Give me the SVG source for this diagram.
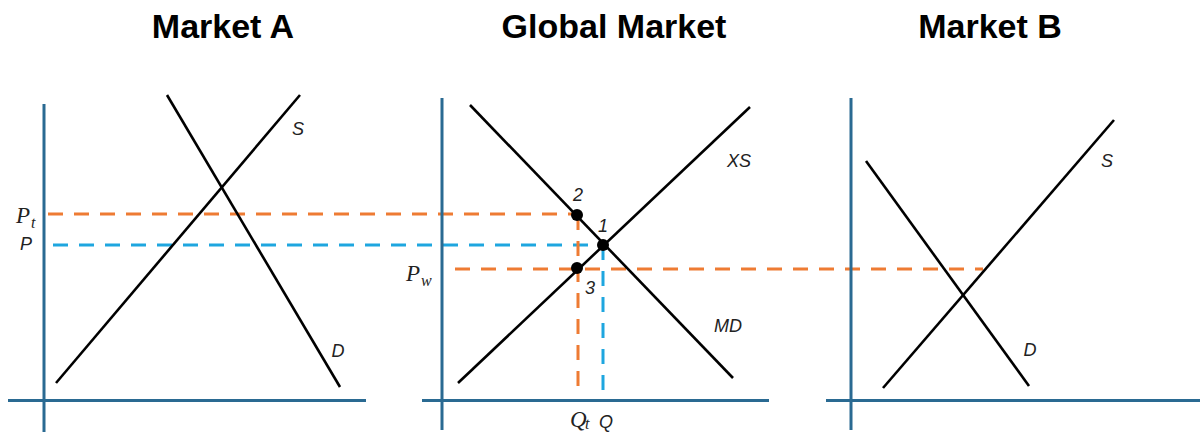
<svg xmlns="http://www.w3.org/2000/svg" width="1200" height="432" viewBox="0 0 1200 432">
<style>
.title{font-family:"Liberation Sans",Arial,sans-serif;font-weight:bold;font-size:34px;fill:#000;text-anchor:middle}
.axis{stroke:#2a6a92;stroke-width:3;fill:none}
.curve{stroke:#000;stroke-width:2.6;fill:none;stroke-linecap:butt}
.dor{stroke:#ee7b33;stroke-width:3;stroke-dasharray:15 11;fill:none}
.dbl{stroke:#1ea6df;stroke-width:3;stroke-dasharray:15 11;fill:none}
.lab{font-family:"Liberation Sans",Arial,sans-serif;font-style:italic;font-size:18px;fill:#222;text-anchor:middle}
.mlab{font-family:"Liberation Serif","Times New Roman",serif;font-style:italic;font-size:23px;fill:#222}
.sub{font-family:"Liberation Serif","Times New Roman",serif;font-style:italic;font-size:16px;fill:#222}
.dot{fill:#000}
</style>
<g id="titles">
<text class="title" x="223" y="38">Market A</text>
<text class="title" x="614" y="38">Global Market</text>
<text class="title" x="990" y="38">Market B</text>
</g>
<g id="connectors">
<line class="dor" x1="48" y1="214" x2="577" y2="214"/>
<line class="dbl" x1="53" y1="245" x2="603" y2="245"/>
<line class="dor" x1="455" y1="269" x2="983" y2="269"/>
<line class="dor" x1="578" y1="215" x2="578" y2="392"/>
<line class="dbl" x1="603" y1="245" x2="603" y2="393"/>
</g>
<g id="market-a">
<line class="axis" x1="44" y1="104" x2="44" y2="432"/>
<line class="axis" x1="8" y1="400.5" x2="366" y2="400.5"/>
<line class="curve" x1="56" y1="383" x2="300" y2="95"/>
<line class="curve" x1="167" y1="95" x2="340" y2="387"/>
<text class="lab" x="298" y="135">S</text>
<text class="lab" x="338" y="357">D</text>
<text class="mlab" x="16" y="223">P</text><text class="sub" x="31" y="228">t</text>
<text class="lab" x="26" y="250">P</text>
</g>
<g id="global-market">
<line class="axis" x1="442" y1="98" x2="442" y2="430"/>
<line class="axis" x1="422" y1="400.5" x2="769" y2="400.5"/>
<line class="curve" x1="458" y1="383" x2="750" y2="107"/>
<line class="curve" x1="470" y1="105" x2="733" y2="378"/>
<circle class="dot" cx="577" cy="215" r="6"/>
<circle class="dot" cx="603" cy="245" r="6"/>
<circle class="dot" cx="577" cy="268" r="6"/>
<text class="lab" x="578" y="201">2</text>
<text class="lab" x="603" y="232">1</text>
<text class="lab" x="590" y="294">3</text>
<text class="lab" x="739" y="167">XS</text>
<text class="lab" x="728" y="332">MD</text>
<text class="mlab" x="406" y="281">P</text><text class="sub" x="421" y="286">w</text>
<text class="mlab" x="570" y="427">Q</text><text class="sub" x="585" y="429">t</text>
<text class="lab" x="606" y="428">Q</text>
</g>
<g id="market-b">
<line class="axis" x1="851" y1="98" x2="851" y2="430"/>
<line class="axis" x1="826" y1="400.5" x2="1200" y2="400.5"/>
<line class="curve" x1="883" y1="388" x2="1114" y2="120"/>
<line class="curve" x1="866" y1="161" x2="1029" y2="386"/>
<text class="lab" x="1107" y="167">S</text>
<text class="lab" x="1030" y="356">D</text>
</g>
</svg>
